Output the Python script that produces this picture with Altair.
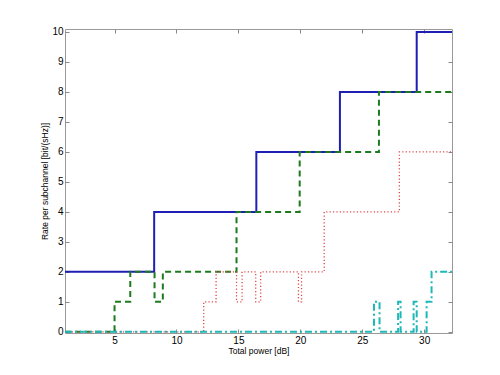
import altair as alt
import pandas as pd

# Step series: breakpoints (x, dB) and the level that starts at each breakpoint
blue_x = [1, 8.2, 16.45, 23.2, 29.4, 32.25]
blue_y = [2, 4, 6, 8, 10, 10]

green_x = [1, 5.0, 6.27, 8.23, 8.9, 14.85, 19.95, 26.35, 32.25]
green_y = [0, 1, 2, 1, 2, 4, 6, 8, 8]

red_x = [1, 12.2, 13.2, 14.85, 15.3, 16.4, 16.8, 19.85, 20.1, 21.93, 28.0, 32.25]
red_y = [0, 1, 2, 1, 2, 1, 2, 1, 2, 4, 6, 6]

cyan_x = [1, 25.95, 26.4, 27.9, 28.1, 29.15, 29.4, 30.2, 30.6, 32.25]
cyan_y = [0, 1, 0, 1, 0, 1, 0, 1, 2, 2]

x_ticks = [5, 10, 15, 20, 25, 30]
y_ticks = list(range(0, 11))

FONT = "Liberation Sans"
xscale = alt.Scale(domain=[1, 32.25], nice=False, zero=False)
yscale = alt.Scale(domain=[-0.04, 10.1], nice=False, zero=False)

def frame(x, y):
    return pd.DataFrame({"x": x, "y": y})

bottom_axis = alt.Axis(values=x_ticks, title="Total power [dB]", domain=False, grid=False,
                       offset=-4, tickSize=4, tickColor="#888", labelPadding=2,
                       labelFontSize=10, titleFontSize=8.5, titleFontWeight="normal",
                       labelFont=FONT, titleFont=FONT, titlePadding=1, labelColor="#000", titleColor="#000")
left_axis = alt.Axis(values=y_ticks, title="Rate per subchannel [bit/(sHz)]", domain=False, grid=False,
                     offset=-4, tickSize=4, tickColor="#888", labelPadding=2,
                     labelFontSize=10, titleFontSize=8.5, titleFontWeight="normal",
                     labelFont=FONT, titleFont=FONT, titlePadding=2, labelColor="#000", titleColor="#000")
top_axis = alt.Axis(orient="top", values=x_ticks, title=None, labels=False, domain=False, grid=False,
                    offset=-4, tickSize=4, tickColor="#888")
right_axis = alt.Axis(orient="right", values=y_ticks, title=None, labels=False, domain=False, grid=False,
                      offset=-4, tickSize=4, tickColor="#888")

def series(x, y, color, dash, width, first=False):
    return alt.Chart(frame(x, y)).mark_line(
        interpolate="step-after", color=color, strokeDash=dash, strokeWidth=width
    ).encode(
        x=alt.X("x:Q", scale=xscale, axis=bottom_axis if first else None),
        y=alt.Y("y:Q", scale=yscale, axis=left_axis if first else None),
    )

l_blue = series(blue_x, blue_y, "#1f1fb4", [1, 0], 2, first=True)
l_green = series(green_x, green_y, "#1e7a1e", [6, 4], 2)
l_red = series(red_x, red_y, "#e04848", [1.2, 2.2], 1.3)
l_cyan = series(cyan_x, cyan_y, "#1fb8b8", [7, 3, 2, 3], 2)

axes2 = alt.Chart(frame(blue_x, blue_y)).mark_line(opacity=0).encode(
    x=alt.X("x:Q", scale=xscale, axis=top_axis),
    y=alt.Y("y:Q", scale=yscale, axis=right_axis),
)

chart = alt.layer(l_blue, l_green, l_red, l_cyan, axes2).resolve_axis(
    x="independent", y="independent"
).properties(
    width=387, height=304,
    autosize=alt.AutoSizeParams(type="none"),
    padding={"left": 57, "top": 21, "right": 30, "bottom": 28},
    background="white",
).configure_view(stroke="#999", strokeWidth=1)

chart.save("out.html", embed_options={"renderer": "svg", "actions": False})
